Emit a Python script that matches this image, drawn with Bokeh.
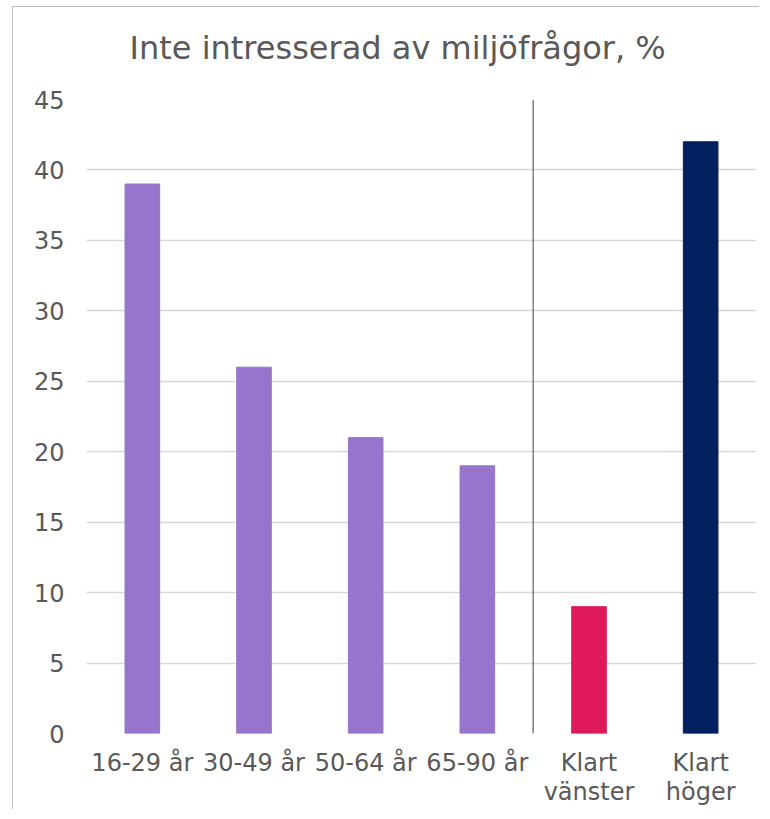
from bokeh.plotting import figure
from bokeh.layouts import column
from bokeh.models import ColumnDataSource, Span, Title, FixedTicker
from bokeh.embed import file_html
from bokeh.resources import INLINE

title_text = "Inte intresserad av miljöfrågor, %"
categories = ["16-29 år", "30-49 år", "50-64 år", "65-90 år", "Klart\nvänster", "Klart\nhöger"]
values = [39, 26, 21, 19, 9, 42]
colors = ["#9775CC", "#9775CC", "#9775CC", "#9775CC", "#E0195A", "#00205F"]
y_ticks = [0, 5, 10, 15, 20, 25, 30, 35, 40, 45]
n_age_groups = 4

src = ColumnDataSource(dict(cat=categories, val=values, col=colors))

p = figure(x_range=categories, y_range=(0, 45), width=746, height=802,
           title=title_text,
           output_backend="svg", toolbar_location=None,
           min_border_left=73, min_border_right=3, min_border_top=92, min_border_bottom=76)

p.vbar(x="cat", top="val", width=0.31, color="col", source=src)

p.add_layout(Span(location=n_age_groups, dimension="height", line_color="#5A6464", line_width=1.2))

p.title.align = "left"
p.title.offset = 43
p.title.standoff = 38
p.title.text_font = "DejaVu Sans"
p.title.text_font_size = "32px"
p.title.text_font_style = "normal"
p.title.text_color = "#595959"

# thin spacer between the title and the plot area
spacer = Title(text=" ", text_font_size="1px", standoff=11, text_color="white")
p.add_layout(spacer, "above")

p.outline_line_color = None
p.background_fill_color = "white"
p.border_fill_color = "white"

p.xgrid.grid_line_color = None
p.ygrid.grid_line_color = "#D9D9D9"
p.ygrid.grid_line_width = 1.5

p.yaxis.ticker = FixedTicker(ticks=y_ticks)
for ax in (p.xaxis, p.yaxis):
    ax.axis_line_color = None
    ax.major_tick_line_color = None
    ax.minor_tick_line_color = None
    ax.major_label_text_font = "DejaVu Sans"
    ax.major_label_text_font_size = "24px"
    ax.major_label_text_color = "#595959"
p.yaxis.major_label_standoff = 16
p.xaxis.major_label_standoff = 9
p.xaxis.major_label_text_line_height = 1.05

layout = column(p, margin=(6, 0, 0, 12),
                styles={"border-left": "1.5px solid #BFBFBF", "border-top": "1.5px solid #BFBFBF"})

open("out.html", "w").write(file_html(layout, INLINE))
